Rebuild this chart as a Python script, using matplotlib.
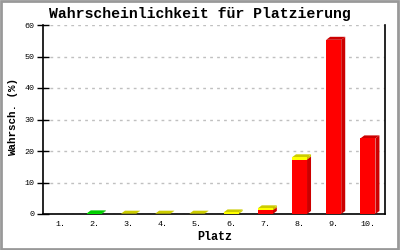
import matplotlib
matplotlib.use("Agg")
import matplotlib.pyplot as plt
from matplotlib.patches import Polygon, Rectangle
import numpy as np

places = ["1.", "2.", "3.", "4.", "5.", "6.", "7.", "8.", "9.", "10."]
red_vals = [0, 0, 0, 0, 0, 0, 1.2, 17.3, 55.3, 24.0]
yellow_vals = [0, 0, 0.1, 0.1, 0.1, 0.5, 0.6, 0.7, 0, 0]
green_vals = [0, 0.2, 0, 0, 0, 0, 0, 0, 0, 0]
yticks = [0, 10, 20, 30, 40, 50, 60]

series = [
    (red_vals, "#ff0000", "#cc0000", "#cc0000"),
    (yellow_vals, "#ffff00", "#cccc00", "#cccc00"),
    (green_vals, "#00dd00", "#00cc00", "#00aa00"),
]

fig = plt.figure(figsize=(4, 2.5), dpi=100)
ax = fig.add_axes([0.1075, 0.144, 0.855, 0.756])
ax.set_xlim(0.5, 10.5)
ax.set_ylim(0, 60)

# pixel -> data conversion for 3D depth
bbox = ax.get_window_extent()
px_x = (10.0) / bbox.width
px_y = (60.0) / bbox.height
dx = 4 * px_x
dy = 3 * px_y
w = 0.44

x = np.arange(1, len(places) + 1)
bottom = np.zeros(len(places))
for vals, front, top, side in series:
    vals = np.array(vals, dtype=float)
    for i in range(len(places)):
        v = vals[i]
        if v <= 0:
            continue
        x0 = x[i] - w / 2
        x1 = x[i] + w / 2
        y0 = bottom[i]
        y1 = bottom[i] + v
        ax.add_patch(Polygon([(x1, y0), (x1 + dx, y0 + dy), (x1 + dx, y1 + dy), (x1, y1)],
                             closed=True, facecolor=side, edgecolor="none", zorder=3))
        ax.add_patch(Polygon([(x0, y1), (x0 + dx, y1 + dy), (x1 + dx, y1 + dy), (x1, y1)],
                             closed=True, facecolor=top, edgecolor="none", zorder=3))
    ax.bar(x, vals, width=w, bottom=bottom, color=front, edgecolor="none", zorder=4)
    bottom = bottom + vals

ax.set_yticks(yticks)
ax.set_xticks(x)
ax.set_xticklabels(places)
mono = "Liberation Mono"
for lab in ax.get_xticklabels() + ax.get_yticklabels():
    lab.set_fontfamily(mono)
    lab.set_fontsize(6)
ax.tick_params(axis="y", direction="inout", length=8, width=1, pad=2)
ax.tick_params(axis="x", length=0, pad=5)
ax.yaxis.grid(True, color="#c0c0c0", linestyle=(0, (2, 3)), linewidth=1)
ax.set_axisbelow(True)
ax.spines["top"].set_visible(False)
for s in ["left", "bottom", "right"]:
    ax.spines[s].set_linewidth(1.2)
    ax.spines[s].set_color("black")

fig.text(0.5, 0.945, "Wahrscheinlichkeit für Platzierung", ha="center", va="center",
         fontfamily=mono, fontweight="bold", fontsize=10.7)
fig.text(0.537, 0.05, "Platz", ha="center", va="center",
         fontfamily=mono, fontweight="bold", fontsize=8.5)
fig.text(0.033, 0.53, "Wahrsch. (%)", ha="center", va="center", rotation=90,
         fontfamily=mono, fontweight="bold", fontsize=7.8)

fig.patches.append(Rectangle((0.002, 0.004), 0.994, 0.994, transform=fig.transFigure,
                             fill=False, edgecolor="#999999", linewidth=2))

fig.savefig("out.png", dpi=100)
